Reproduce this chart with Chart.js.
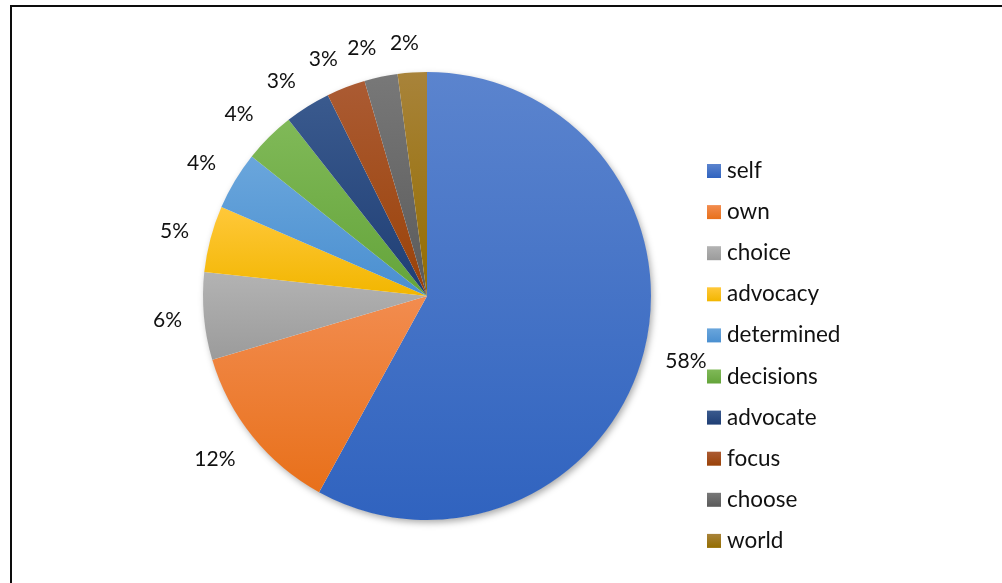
<!DOCTYPE html>
<html>
<head>
<meta charset="utf-8">
<script src="https://cdn.jsdelivr.net/npm/chart.js@4/dist/chart.umd.min.js"></script>
<style>
  html, body { margin: 0; padding: 0; background: #fff; }
  #frame { position: absolute; left: 10px; top: 5px; width: 1200px; height: 800px;
           border-left: 2px solid #0d0d0d; border-top: 2px solid #0d0d0d; }
  #chart { position: absolute; left: 0; top: 0; }
</style>
</head>
<body>
<div id="frame"></div>
<canvas id="chart" width="1002" height="583"></canvas>
<script>
// Word categories and their share of mentions (%)
const categories = ['self', 'own', 'choice', 'advocacy', 'determined', 'decisions', 'advocate', 'focus', 'choose', 'world'];
const shares = [58.0, 12.4, 6.3, 4.8, 4.2, 3.7, 3.3, 2.8, 2.4, 2.1];

// Gradient stops for each slice: lighter top, deeper bottom
const topColors = ['#5B84CE', '#F28C4F', '#B3B3B3', '#FFC83A', '#6AA6DC', '#80B958', '#3A5A8E', '#AB5B33', '#787878', '#A8833A'];
const bottomColors = ['#3063BF', '#E8701A', '#9B9B9B', '#F2B600', '#4A8FD0', '#64A43A', '#1F3E74', '#9A4208', '#5A5A5A', '#946D00'];

const FONT = 'Lato, "Open Sans", sans-serif';

function sliceGradient(ctx) {
  const i = ctx.dataIndex;
  const chart = ctx.chart;
  const ca = chart.chartArea;
  if (ctx.type !== 'data' || !ca) return topColors[i] || topColors[0];
  const cx = (ca.left + ca.right) / 2, cy = (ca.top + ca.bottom) / 2;
  const r = Math.min(ca.width, ca.height) / 2;
  const total = shares.reduce((a, b) => a + b, 0);
  let acc = 0;
  for (let k = 0; k < i; k++) acc += shares[k];
  const start = -Math.PI / 2 + 2 * Math.PI * acc / total;
  const end = start + 2 * Math.PI * shares[i] / total;
  const ys = [cy, cy + r * Math.sin(start), cy + r * Math.sin(end)];
  // include the vertical extremes if the slice spans them
  for (let a = -Math.PI / 2; a <= 2 * Math.PI; a += Math.PI) {
    if (a > start && a < end) ys.push(cy + r * Math.sin(a));
  }
  const y0 = Math.min(...ys), y1 = Math.max(...ys);
  const g = chart.ctx.createLinearGradient(0, y0, 0, y1);
  g.addColorStop(0, topColors[i]);
  g.addColorStop(1, bottomColors[i]);
  return g;
}

// Soft drop shadow under the whole pie
const pieShadow = {
  id: 'pieShadow',
  beforeDatasetsDraw(chart) {
    const arc = chart.getDatasetMeta(0).data[0];
    if (!arc) return;
    const { x, y, outerRadius } = arc.getProps(['x', 'y', 'outerRadius'], true);
    const c = chart.ctx;
    c.save();
    c.shadowColor = 'rgba(0,0,0,0.35)';
    c.shadowBlur = 7;
    c.shadowOffsetX = 2;
    c.shadowOffsetY = 3;
    c.beginPath();
    c.arc(x, y, outerRadius - 0.5, 0, Math.PI * 2);
    c.fillStyle = '#ffffff';
    c.fill();
    c.restore();
  }
};

const clamp = (v, lo, hi) => Math.max(lo, Math.min(hi, v));

// Percentage labels just outside each slice, the box corner nearest the pie
// sitting on a ring a little beyond the rim
const outsideLabels = {
  id: 'outsideLabels',
  afterDatasetsDraw(chart) {
    const meta = chart.getDatasetMeta(0);
    const data = chart.data.datasets[0].data;
    const total = data.reduce((a, b) => a + b, 0);
    const c = chart.ctx;
    c.save();
    c.font = '21px ' + FONT;
    c.fillStyle = '#111111';
    c.textAlign = 'center';
    c.textBaseline = 'middle';
    meta.data.forEach((arc, i) => {
      const p = arc.getProps(['x', 'y', 'startAngle', 'endAngle', 'outerRadius'], true);
      const mid = (p.startAngle + p.endAngle) / 2;
      const txt = Math.round(data[i] / total * 100) + '%';
      const w = c.measureText(txt).width;
      const h = 16;
      const cs = Math.cos(mid), sn = Math.sin(mid);
      const d = p.outerRadius + 22;
      const x = p.x + cs * d + clamp(cs / 0.15, -1, 1) * w / 2;
      const y = p.y + sn * d + clamp(sn / 0.6, -1, 1) * h / 2;
      c.fillText(txt, x, y + 1);
    });
    c.restore();
  }
};

// Legend column to the right of the pie
const sideLegend = {
  id: 'sideLegend',
  afterDraw(chart) {
    const c = chart.ctx;
    const labels = chart.data.labels;
    const x0 = 707, yTop = 171, step = 41.1, box = 14;
    c.save();
    c.font = '22.5px ' + FONT;
    c.textBaseline = 'alphabetic';
    labels.forEach((lab, i) => {
      const yc = yTop + i * step;
      const g = c.createLinearGradient(0, yc - box / 2, 0, yc + box / 2);
      g.addColorStop(0, topColors[i]);
      g.addColorStop(1, bottomColors[i]);
      c.fillStyle = g;
      c.fillRect(x0, yc - box / 2, box, box);
      c.fillStyle = '#111111';
      c.fillText(lab, x0 + 20, yc + 7);
    });
    c.restore();
  }
};

new Chart(document.getElementById('chart'), {
  type: 'pie',
  data: {
    labels: categories,
    datasets: [{
      data: shares,
      backgroundColor: sliceGradient,
      borderWidth: 0,
      hoverOffset: 0
    }]
  },
  options: {
    responsive: false,
    devicePixelRatio: 1,
    animation: false,
    layout: { padding: { left: 203, right: 351, top: 72, bottom: 63 } },
    plugins: {
      legend: { display: false },
      tooltip: { enabled: false }
    }
  },
  plugins: [pieShadow, outsideLabels, sideLegend]
});
</script>
</body>
</html>
